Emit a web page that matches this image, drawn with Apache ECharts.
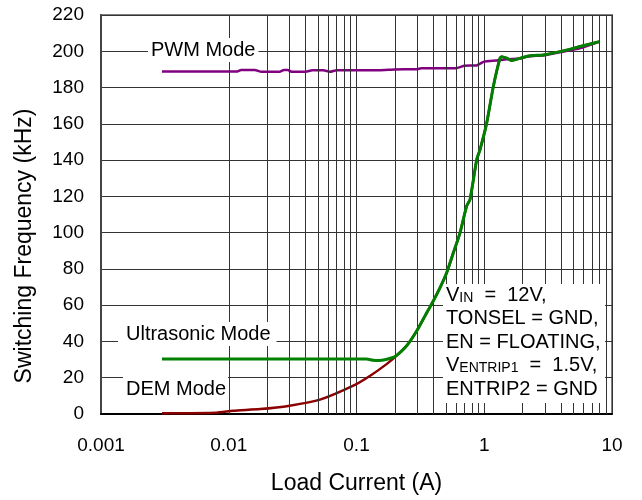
<!DOCTYPE html>
<html>
<head>
<meta charset="utf-8">
<script src="https://cdn.jsdelivr.net/npm/echarts@6/dist/echarts.min.js"></script>
<style>html,body{margin:0;padding:0;background:#fff}#c{width:642px;height:500px}</style>
</head>
<body>
<div id="c"></div>
<script>
// Data
const xTickLabels = ['0.001', '0.01', '0.1', '1', '10'];
const minorGridX = [0.002,0.003,0.004,0.005,0.006,0.007,0.008,0.009,
                    0.02,0.03,0.04,0.05,0.06,0.07,0.08,0.09,
                    0.2,0.3,0.4,0.5,0.6,0.7,0.8,0.9,
                    2,3,4,5,6,7,8,9];

const pwmX = [0.003, 0.006, 0.0115, 0.0125, 0.016, 0.018, 0.025, 0.027, 0.029, 0.031, 0.04, 0.045, 0.055, 0.062, 0.07, 0.15, 0.2, 0.3, 0.32, 0.6, 0.7, 0.87, 1.0, 1.25, 1.5, 1.9, 2.15, 3.05, 3.9, 5.6, 8.0];
const pwmY = [188.8, 188.8, 188.8, 189.7, 189.7, 188.7, 188.7, 189.7, 189.7, 188.7, 188.7, 189.5, 189.5, 188.7, 189.6, 189.6, 190.0, 190.1, 190.6, 190.6, 192.0, 192.2, 194.3, 194.9, 195.6, 196.0, 197.1, 198.0, 199.5, 201.6, 205.3];

const usX = [0.003, 0.01, 0.05, 0.12, 0.135, 0.15, 0.17, 0.19, 0.204, 0.247, 0.296, 0.344, 0.399, 0.451, 0.508, 0.573, 0.646, 0.728, 0.774, 0.873, 0.927, 1.045, 1.178, 1.328, 1.37, 1.5, 1.64, 1.92, 2.28, 2.9, 3.92, 5.62, 7.96];
const usY = [30.3, 30.3, 30.3, 30.3, 29.6, 29.5, 30.0, 31.0, 32.0, 37.6, 45.8, 54.1, 62.3, 69.7, 77.9, 88.9, 99.9, 114.6, 118.3, 140.3, 145.8, 160.4, 180.6, 196.2, 197.0, 196.2, 194.9, 196.2, 197.5, 198.0, 199.8, 202.6, 205.3];

const demX = [0.003, 0.008, 0.0108, 0.0176, 0.030, 0.0518, 0.0944, 0.128, 0.172, 0.204, 0.247, 0.296, 0.344, 0.399, 0.451, 0.508, 0.573, 0.646, 0.728, 0.774, 0.873, 0.927, 1.045, 1.178, 1.328, 1.37, 1.5, 1.64, 1.92, 2.28, 2.9, 3.92, 5.62, 7.96];
const demY = [0.4, 0.7, 1.8, 2.7, 4.6, 7.9, 15.6, 21.1, 27.5, 31.9, 37.6, 45.8, 54.1, 62.3, 69.7, 77.9, 88.9, 99.9, 114.6, 118.3, 140.3, 145.8, 160.4, 180.6, 196.2, 197.0, 196.2, 194.9, 196.2, 197.5, 198.0, 199.8, 202.6, 205.3];

const pair = (xs, ys) => xs.map((x, i) => [x, ys[i]]);
const FONT = '"Liberation Sans", Arial, sans-serif';

const chart = echarts.init(document.getElementById('c'), null, {renderer: 'canvas'});
chart.setOption({
  animation: false,
  backgroundColor: '#fff',
  grid: {left: 101, right: 30, top: 15, bottom: 85, show: true, borderColor: '#808080', borderWidth: 2, backgroundColor: 'transparent'},
  xAxis: {
    type: 'log', logBase: 10, min: 0.001, max: 10,
    name: 'Load Current (A)', nameLocation: 'middle', nameGap: 58,
    nameTextStyle: {fontFamily: FONT, fontSize: 23, color: '#000'},
    axisLine: {show: true, lineStyle: {color: '#000', width: 2}},
    axisTick: {show: false},
    axisLabel: {fontFamily: FONT, fontSize: 19, color: '#000', margin: 22,
      formatter: v => xTickLabels[Math.round(Math.log10(v)) + 3]},
    splitLine: {show: true, lineStyle: {color: '#333', width: 1}},
    minorSplitLine: {show: false}
  },
  yAxis: {
    type: 'value', min: 0, max: 220, interval: 20,
    axisLine: {show: true, lineStyle: {color: '#444', width: 2}},
    axisTick: {show: false},
    axisLabel: {fontFamily: FONT, fontSize: 19, color: '#000', margin: 17},
    splitLine: {show: true, lineStyle: {color: '#333', width: 1}}
  },
  series: [
    {type: 'line', data: [], z: 1, silent: true,
     markLine: {silent: true, symbol: 'none', label: {show: false},
       lineStyle: {color: '#333', width: 1, type: 'solid'},
       data: minorGridX.map(v => ({xAxis: v}))}},
    {name: 'DEM', type: 'line', data: pair(demX, demY), showSymbol: false, smooth: 0.2, z: 3,
     lineStyle: {color: '#8B0000', width: 2.5}},
    {name: 'PWM', type: 'line', data: pair(pwmX, pwmY), showSymbol: false, smooth: 0.2, z: 4,
     lineStyle: {color: '#800080', width: 2.5}},
    {name: 'Ultrasonic', type: 'line', data: pair(usX, usY), showSymbol: false, smooth: 0.2, z: 5,
     lineStyle: {color: '#008000', width: 3}}
  ],
  graphic: [
    {type: 'text', x: 25, y: 246, rotation: Math.PI / 2, z: 100,
     style: {text: 'Switching Frequency (kHz)', font: '23px ' + FONT, fill: '#000', align: 'center', verticalAlign: 'middle'}},
    {type: 'text', left: 148, top: 38, z: 100,
     style: {text: 'PWM Mode', font: '20px ' + FONT, fill: '#000', backgroundColor: '#fff', padding: [2, 3, 2, 3]}},
    {type: 'text', left: 118, top: 322, z: 100,
     style: {text: 'Ultrasonic Mode', font: '20px ' + FONT, fill: '#000', backgroundColor: '#fff', padding: [2, 6, 2, 8]}},
    {type: 'text', left: 123, top: 377, z: 100,
     style: {text: 'DEM Mode', font: '20px ' + FONT, fill: '#000', backgroundColor: '#fff', padding: [2, 2, 2, 3]}},
    {type: 'rect', left: 443, top: 284, z: 100, shape: {width: 162, height: 119}, style: {fill: '#fff'}},
    {type: 'text', left: 446, top: 285, z: 101,
     style: {
       text: '{b|V}{s|IN}{b|  =  12V,}\n{b|TONSEL = GND,}\n{b|EN = FLOATING,}\n{b|V}{s|ENTRIP1}{b|  =  1.5V,}\n{b|ENTRIP2 = GND}',
       fill: '#000',
       rich: {
         b: {fontFamily: FONT, fontSize: 20, lineHeight: 23.5, verticalAlign: 'bottom', fill: '#000'},
         s: {fontFamily: FONT, fontSize: 14, lineHeight: 16, verticalAlign: 'bottom', fill: '#000'}
       }
     }}
  ]
});
</script>
</body>
</html>
